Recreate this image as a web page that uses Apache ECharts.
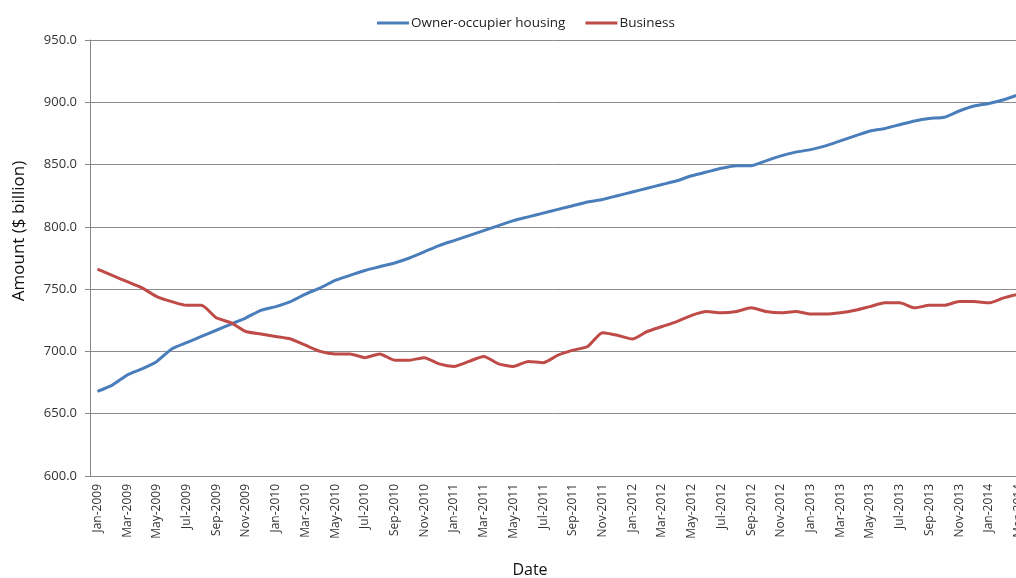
<!DOCTYPE html>
<html><head><meta charset="utf-8">
<script src="https://cdn.jsdelivr.net/npm/echarts@6/dist/echarts.min.js"></script>
<style>html,body{margin:0;padding:0;background:#fff}#c{width:1016px;height:578px}</style>
</head><body><div id="c"></div>
<script>
const months = ['Jan','Feb','Mar','Apr','May','Jun','Jul','Aug','Sep','Oct','Nov','Dec'];
const categories = [];
for (let y = 2009; y <= 2014; y++) for (let m = 0; m < 12; m++) { if (y === 2014 && m > 2) break; categories.push(months[m] + '-' + y); }
const ownerOccupier = [668,673,681,686,692,702,707,712,717,722,727,733,736,740,746,751,757,761,765,768,771,775,780,785,789,793,797,801,805,808,811,814,817,820,822,825,828,831,834,837,841,844,847,849,849,853,857,860,862,865,869,873,877,879,882,885,887,888,893,897,899,902,906];
const business = [766,761,756,751,744,740,737,737,727,723,716,714,712,710,705,700,698,698,695,698,693,693,695,690,688,692,696,690,688,692,691,697,701,704,715,713,710,716,720,724,729,732,731,732,735,732,731,732,730,730,731,733,736,739,739,735,737,737,740,740,739,743,746];
const yTicks = {min: 600, max: 950, interval: 50};
const font = '"Open Sans", sans-serif';
const chart = echarts.init(document.getElementById('c'));
chart.setOption({
  animation: false,
  textStyle: {fontFamily: font},
  legend: {top: 11, left: 372, itemWidth: 32, itemHeight: 3, itemGap: 20, icon: 'rect',
    textStyle: {fontSize: 13.5, color: '#222', fontFamily: font, padding: [0, 0, 0, -3]},
    data: ['Owner-occupier housing', 'Business']},
  grid: {left: 90, right: -10, top: 40, bottom: 102, containLabel: false, outerBoundsMode: 'none'},
  xAxis: {type: 'category', data: categories, boundaryGap: true,
    name: 'Date', nameLocation: 'middle', nameGap: 86,
    nameTextStyle: {fontSize: 16, color: '#111', padding: [0, 56, 0, 0]},
    axisLine: {lineStyle: {color: '#888'}},
    axisTick: {interval: 1, length: 5, lineStyle: {color: '#888'}},
    axisLabel: {interval: 1, rotate: 90, fontSize: 12, color: '#333', margin: 8}},
  yAxis: {type: 'value', min: yTicks.min, max: yTicks.max, interval: yTicks.interval,
    name: 'Amount ($ billion)', nameLocation: 'middle', nameGap: 62,
    nameTextStyle: {fontSize: 17, color: '#111', padding: [0, 0, 0, 54]},
    axisLine: {show: true, lineStyle: {color: '#888'}},
    axisTick: {show: true, length: 5, lineStyle: {color: '#888'}},
    splitLine: {lineStyle: {color: '#8c8c8c', width: 1}},
    axisLabel: {formatter: v => v.toFixed(1), fontSize: 13, color: '#333', margin: 13}},
  series: [
    {name: 'Owner-occupier housing', type: 'line', data: ownerOccupier, showSymbol: false, smooth: 0.2,
      lineStyle: {color: '#4a7ebb', width: 3}, itemStyle: {color: '#4a7ebb'}},
    {name: 'Business', type: 'line', data: business, showSymbol: false, smooth: 0.2,
      lineStyle: {color: '#be4b48', width: 3}, itemStyle: {color: '#be4b48'}}
  ]
});
</script></body></html>
